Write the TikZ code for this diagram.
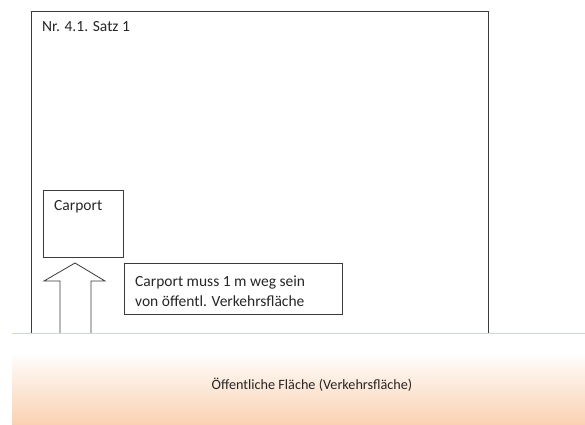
\documentclass[tikz,border=0pt]{standalone}
\usepackage{fontspec}
\setmainfont{Carlito}
\definecolor{peach}{HTML}{FAD2B3}
\definecolor{bandline}{HTML}{F7CDAE}
\definecolor{frame}{HTML}{3A3A3A}
\begin{document}
\begin{tikzpicture}[x=1pt,y=-1pt,
  boxline/.style={draw=frame,line width=0.8pt},
  lbl/.style={font=\fontsize{15.5}{18}\selectfont,text=black!85,inner sep=0pt}]
\useasboundingbox (0,0) rectangle (585,424);
% band
\fill[white] (12,333) rectangle (585,352);
\shade[top color=white,bottom color=white!70!peach] (12,352) rectangle (585,372);
\shade[top color=white!70!peach,bottom color=peach] (12,372) rectangle (585,424);
\draw[bandline,line width=0.8pt] (12,333) -- (585,333);
% outer frame (open at bottom)
\draw[boxline] (31,333) -- (31,11) -- (488,11) -- (488,333);
\node[lbl,anchor=west] (title) at (42,27) {Nr. 4.1. Satz 1};
% carport
\node[boxline,minimum width=80,minimum height=67,anchor=north west,inner sep=0pt] (carport) at (43,190) {};
\node[lbl,anchor=west] (cplabel) at (54,207) {Carport};
% arrow
\draw[boxline,line join=miter] (60,333) -- (60,281) -- (44,281) -- (75,263) -- (105,281) -- (91,281) -- (91,333);
\coordinate (tip) at (75,263);
% note box
\node[boxline,minimum width=218,minimum height=51,anchor=north west,inner sep=0pt] (note) at (124,263) {};
\node[lbl,anchor=west,align=left] (notetext) at (135,291) {Carport muss 1 m weg sein\\[2pt]von öffentl. Verkehrsfläche};
% band label
\node[lbl,font=\fontsize{14.2}{17}\selectfont] (band) at (312,385) {Öffentliche Fläche (Verkehrsfläche)};
\end{tikzpicture}
\end{document}
